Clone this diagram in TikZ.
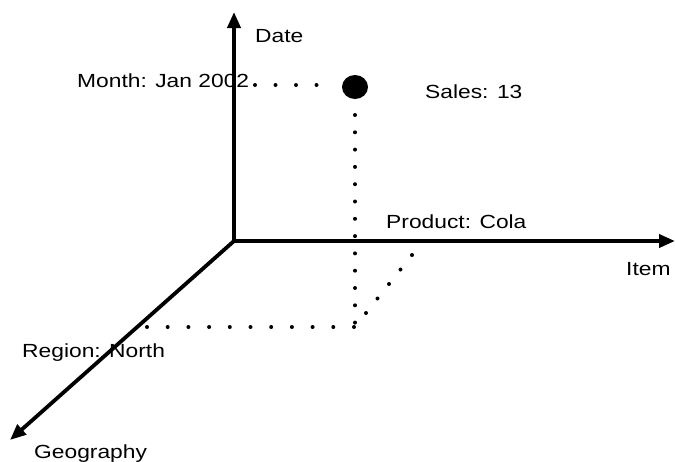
\documentclass[tikz,border=0pt]{standalone}
\usepackage{fontspec}
\setmainfont{Liberation Sans}
\usetikzlibrary{arrows.meta,shapes.geometric}
\newcommand{\wide}[1]{\scalebox{1.2}[1]{#1}}
\tikzset{
  axis/.style={line width=3.8pt, -{Triangle[length=16pt,width=13pt]}},
  lbl/.style={anchor=base west, inner sep=0pt, font=\fontsize{19}{22}\selectfont},
  dotline/.style={line width=4pt, line cap=round, dash pattern=on 0pt off #1},
  bigdot/.style={ellipse, fill=black, minimum width=26pt, minimum height=24pt, inner sep=0pt},
}
\begin{document}
\begin{tikzpicture}[x=1pt,y=-1pt]
\useasboundingbox (0,0) rectangle (675,461);
% axes
\coordinate (O) at (234,241);
\coordinate (DateTip) at (234,12);
\coordinate (ItemTip) at (675,241);
\coordinate (GeoTip) at (10,440);
\draw[axis] (O) -- (DateTip);
\draw[axis] (O) -- (ItemTip);
\draw[axis] (O) -- (GeoTip);
% point
\node[bigdot] (pt) at (355,87) {};
% dotted guides
\coordinate (mA) at (255,85);
\coordinate (mB) at (337,85);
\coordinate (vA) at (355,115);
\coordinate (vB) at (355,322.6);
\coordinate (hA) at (147,327);
\coordinate (hB) at (354,327);
\coordinate (dA) at (366,313);
\coordinate (dB) at (412,255);
\draw[dotline=20.5pt] (mA) -- (mB);
\draw[dotline=17.3pt] (vA) -- (vB);
\draw[dotline=20.7pt] (hA) -- (hB);
\draw[dotline=18.5pt] (dA) -- (dB);
% labels
\node[lbl] (date) at (255,42.5) {\wide{Date}};
\node[lbl] (month) at (77,87) {\wide{Month: Jan 2002}};
\node[lbl] (sales) at (425,98) {\wide{Sales: 13}};
\node[lbl] (product) at (386,228) {\wide{Product: Cola}};
\node[lbl] (item) at (626,275) {\wide{Item}};
\node[lbl] (region) at (22,357) {\wide{Region: North}};
\node[lbl] (geo) at (34,458) {\wide{Geography}};
\end{tikzpicture}
\end{document}
